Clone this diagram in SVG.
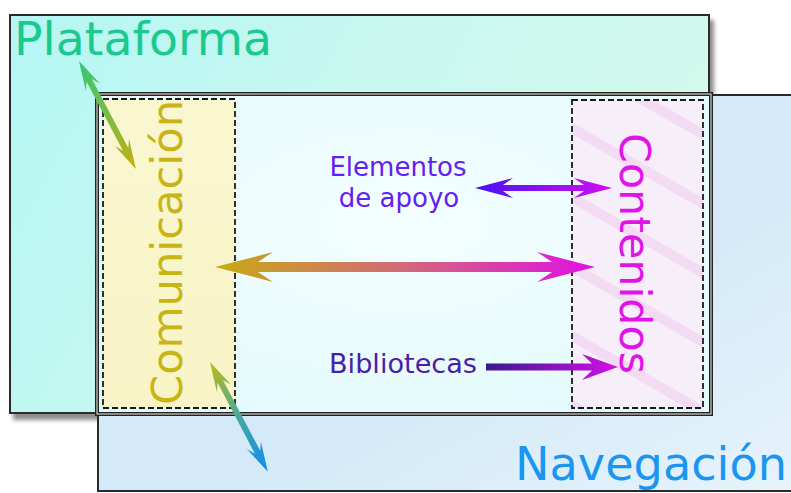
<svg xmlns="http://www.w3.org/2000/svg" width="791" height="493" viewBox="0 0 791 493">
<style>
.box{stroke:#2a2a2a;stroke-width:2}
.dash{stroke:#1a1a1a;stroke-width:1.8;stroke-dasharray:6 3}
.t{font-family:"DejaVu Sans",Verdana,sans-serif}
</style>
<defs>
<filter id="sh" x="-5%" y="-5%" width="115%" height="115%">
<feDropShadow dx="4" dy="6" stdDeviation="2" flood-color="#000" flood-opacity="0.45"/>
</filter>
<linearGradient id="gPlat" x1="0" y1="0" x2="1" y2="0.3">
<stop offset="0" stop-color="#b4f6f4"/><stop offset="0.5" stop-color="#c8f8f0"/><stop offset="1" stop-color="#d4f8ec"/>
</linearGradient>
<linearGradient id="gNav" x1="0" y1="0" x2="1" y2="1">
<stop offset="0" stop-color="#d6e8f8"/><stop offset="0.6" stop-color="#d4eaf8"/><stop offset="1" stop-color="#e6f3fc"/>
</linearGradient>
<radialGradient id="gIn" cx="0.5" cy="0.4" r="0.7">
<stop offset="0" stop-color="#f4feff"/><stop offset="1" stop-color="#e2fafc"/>
</radialGradient>
<linearGradient id="gCom" x1="0" y1="0" x2="0" y2="1">
<stop offset="0" stop-color="#faf6d0"/><stop offset="1" stop-color="#f8f4c6"/>
</linearGradient>
<pattern id="pCon" width="60" height="60" patternUnits="userSpaceOnUse" patternTransform="rotate(30)">
<rect width="60" height="60" fill="#f6eef9"/>
<rect width="60" height="10" fill="#f3dcf3"/>
</pattern>
<linearGradient id="aBig" x1="0" y1="0" x2="1" y2="0">
<stop offset="0" stop-color="#c8aa14"/><stop offset="0.5" stop-color="#d2687a"/><stop offset="1" stop-color="#e010e4"/>
</linearGradient>
<linearGradient id="aEle" x1="0" y1="0" x2="1" y2="0">
<stop offset="0" stop-color="#4a10f0"/><stop offset="1" stop-color="#d010f0"/>
</linearGradient>
<linearGradient id="aBib" x1="0" y1="0" x2="1" y2="0">
<stop offset="0" stop-color="#3a1890"/><stop offset="1" stop-color="#d410e8"/>
</linearGradient>
<linearGradient id="aPla" x1="0" y1="0" x2="1" y2="0">
<stop offset="0" stop-color="#2ec878"/><stop offset="1" stop-color="#c4b010"/>
</linearGradient>
<linearGradient id="aNav" x1="0" y1="0" x2="1" y2="0">
<stop offset="0" stop-color="#bcbc14"/><stop offset="0.5" stop-color="#48a8a0"/><stop offset="1" stop-color="#108cf4"/>
</linearGradient>
</defs>

<g id="plataforma">
<rect class="box" x="10" y="15" width="699" height="398" fill="url(#gPlat)" filter="url(#sh)"/>
<text class="t" x="14" y="55" font-size="46" fill="#1cc98c" textLength="258" lengthAdjust="spacingAndGlyphs">Plataforma</text>
</g>

<g id="navegacion">
<rect class="box" x="98" y="95" width="700" height="396" fill="url(#gNav)"/>
<text class="t" x="515" y="480" font-size="46" fill="#1a96f2" textLength="272" lengthAdjust="spacingAndGlyphs">Navegación</text>
</g>

<g id="centro">
<rect x="97" y="94" width="614" height="320" fill="url(#gIn)" stroke="#222" stroke-width="4"/>
<rect x="97" y="94" width="614" height="320" fill="none" stroke="#d0d0c4" stroke-width="1.2"/>
</g>

<g id="comunicacion">
<rect class="dash" x="103" y="99" width="132" height="309" fill="url(#gCom)"/>
<text class="t" transform="translate(182,405) rotate(-90)" font-size="43" fill="#c8b414" textLength="305" lengthAdjust="spacingAndGlyphs">Comunicación</text>
</g>

<g id="contenidos">
<rect class="dash" x="572" y="100" width="131" height="308" fill="url(#pCon)"/>
<text class="t" transform="translate(620,133) rotate(90)" font-size="43" fill="#e014e6" textLength="241" lengthAdjust="spacingAndGlyphs">Contenidos</text>
</g>

<g id="elementos">
<text class="t" font-size="26" fill="#6420f0" text-anchor="middle"><tspan x="398" y="176">Elementos</tspan><tspan x="399" y="207">de apoyo</tspan></text>
</g>

<g id="bibliotecas">
<text class="t" x="329" y="373" font-size="26" fill="#4a1ea8" textLength="148" lengthAdjust="spacingAndGlyphs">Bibliotecas</text>
</g>

<g id="connectors">
<path transform="translate(215,267)" fill="url(#aBig)" d="M0,0 L58,-15 L43,-5 L337,-5 L322,-15 L380,0 L322,15 L337,5 L43,5 L58,15 Z"/>
<path transform="translate(475,188)" fill="url(#aEle)" d="M0,0 L38,-10 L28,-3 L109,-3 L99,-10 L137,0 L99,10 L109,3 L28,3 L38,10 Z"/>
<path transform="translate(486,367)" fill="url(#aBib)" d="M0,-3.5 L106,-3.5 L96,-13 L132,0 L96,13 L106,3.5 L0,3.5 Z"/>
<path transform="translate(79,61) rotate(62.2)" fill="url(#aPla)" d="M0,0 L30,-8 L22,-3 L100,-3 L92,-8 L122,0 L92,8 L100,3 L22,3 L30,8 Z"/>
<path transform="translate(210,362) rotate(62.2)" fill="url(#aNav)" d="M0,0 L30,-8 L22,-3 L102,-3 L94,-8 L124,0 L94,8 L102,3 L22,3 L30,8 Z"/>
</g>
</svg>
